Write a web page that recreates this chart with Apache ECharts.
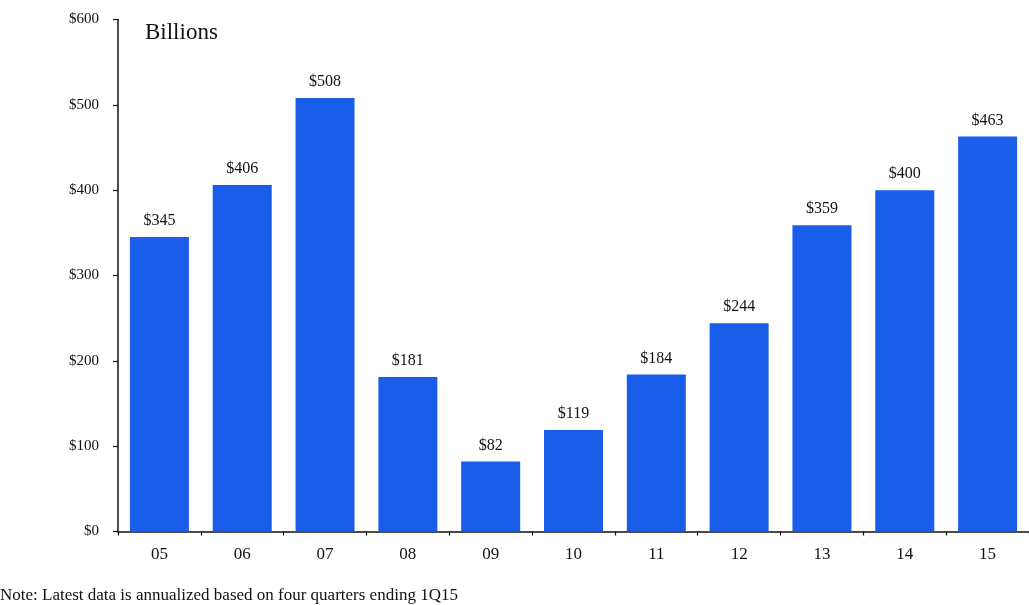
<!DOCTYPE html>
<html><head><meta charset="utf-8">
<script src="https://cdn.jsdelivr.net/npm/echarts@6/dist/echarts.min.js"></script>
<style>html,body{margin:0;padding:0;background:#fff}#c{width:1029px;height:605px}</style>
</head><body><div id="c"></div>
<script>
const categories = ['05','06','07','08','09','10','11','12','13','14','15'];
const values = [345,406,508,181,82,119,184,244,359,400,463];
const yTicks = [0,100,200,300,400,500,600];
const unitLabel = 'Billions';
const noteText = 'Note: Latest data is annualized based on four quarters ending 1Q15';

const FONT = '"Liberation Serif", "DejaVu Serif", serif';
const chart = echarts.init(document.getElementById('c'), null, {renderer:'canvas'});
chart.setOption({
  animation: false,
  backgroundColor: '#fff',
  grid: {left: 118, right: -7, top: 19.5, bottom: 73.5, containLabel: false},
  graphic: [
    {type:'text', left: 145, top: 21, style:{text: unitLabel, font: '23px ' + FONT, fill:'#111'}},
    {type:'text', left: 0, top: 587, style:{text: noteText, font: '17px ' + FONT, fill:'#111'}}
  ],
  xAxis: {
    type: 'category', data: categories,
    axisLine: {lineStyle: {color:'#111', width: 1.5}},
    axisTick: {show: true, length: 4, lineStyle:{color:'#111', width: 1.2}},
    axisLabel: {margin: 15, fontFamily: FONT, fontSize: 17, color: '#111'}
  },
  yAxis: {
    type: 'value', min: yTicks[0], max: yTicks[yTicks.length-1], interval: 100,
    splitLine: {show: false},
    axisLine: {show: true, lineStyle: {color:'#111', width: 1.5}},
    axisTick: {show: true, length: 5, lineStyle:{color:'#111', width: 1.2}},
    axisLabel: {margin: 19, fontFamily: FONT, fontSize: 15, color: '#111', formatter: v => '$' + v}
  },
  series: [{
    type: 'bar', data: values, barWidth: 59,
    itemStyle: {color: '#1a5de8'},
    label: {show: true, position: 'top', distance: 8, fontFamily: FONT, fontSize: 16, color: '#111', formatter: p => '$' + p.value}
  }]
});
</script></body></html>
